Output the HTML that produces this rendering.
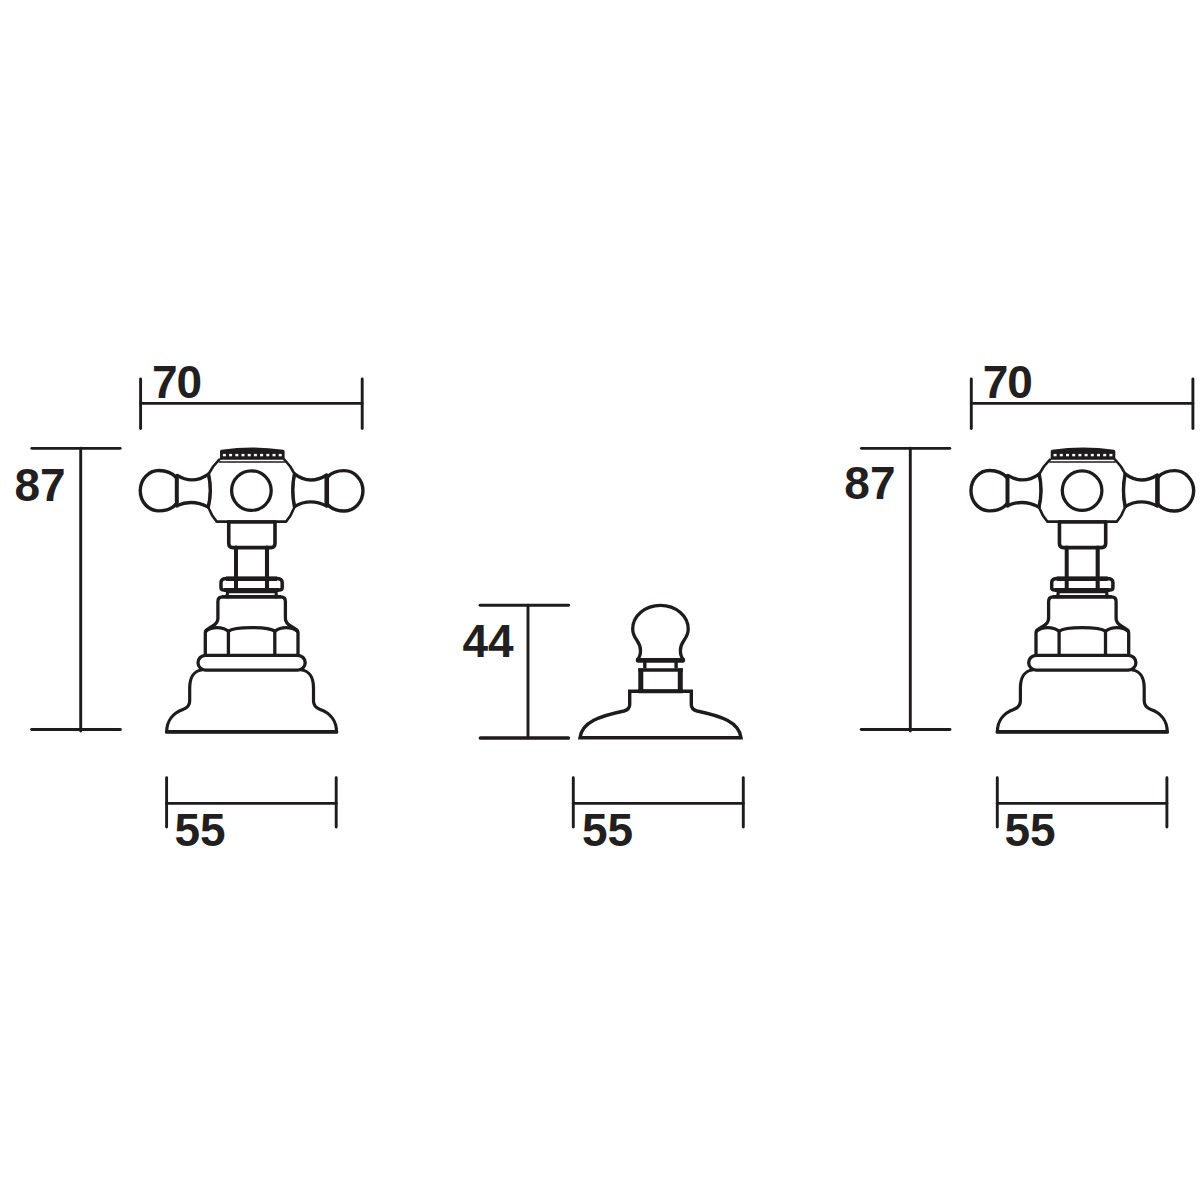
<!DOCTYPE html>
<html>
<head>
<meta charset="utf-8">
<style>
html,body{margin:0;padding:0;background:#fff;}
body{width:1200px;height:1200px;overflow:hidden;}
svg{display:block;}
text{font-family:"Liberation Sans",sans-serif;font-weight:bold;fill:#231f20;font-size:46px;}
</style>
</head>
<body>
<svg width="1200" height="1200" viewBox="0 0 1200 1200">
<defs>
<g id="tap" fill="none" stroke="#1e1b1c" stroke-width="3" stroke-linejoin="round" stroke-linecap="round">
  <!-- cap -->
  <path d="M220 459.8 L220 451.4 Q220 450 221.5 449.8 Q252.3 445 283.1 449.8 Q284.6 450 284.6 451.4 L284.6 459.8 Z" fill="#1e1b1c" stroke="none"/>
  <line x1="218.6" y1="461.95" x2="285" y2="461.95" stroke-width="1.6" stroke-linecap="butt"/>
  <g fill="#fff" stroke="none">
    <rect x="222.9" y="453.9" width="3" height="2.4"/>
    <rect x="229.1" y="453.9" width="3" height="2.4"/>
    <rect x="235.3" y="453.9" width="3" height="2.4"/>
    <rect x="241.5" y="453.9" width="3" height="2.4"/>
    <rect x="247.7" y="453.9" width="3" height="2.4"/>
    <rect x="253.9" y="453.9" width="3" height="2.4"/>
    <rect x="260.1" y="453.9" width="3" height="2.4"/>
    <rect x="266.3" y="453.9" width="3" height="2.4"/>
    <rect x="272.5" y="453.9" width="3" height="2.4"/>
    <rect x="278.7" y="453.9" width="3" height="2.4"/>
  </g>
  <!-- body -->
  <path d="M219.2 459.6 Q212.6 466 208.5 474.1 Q212.2 490.5 208.3 507.1 Q211.3 515.5 216.7 521.6 L286.1 521.6 Q291.7 515.3 294.5 506.6 Q291 490.5 294.5 473.9 Q290.7 465.8 284.4 459.6" stroke-width="2.6"/>
  <path d="M208.5 474.1 Q212.2 490.5 208.3 507.1" stroke-width="3.4"/>
  <path d="M294.5 473.9 Q291 490.5 294.5 506.6" stroke-width="3.4"/>
  <circle cx="251.4" cy="490.6" r="19.8" stroke-width="3.3"/>
  <!-- left neck -->
  <path d="M177.2 475.4 Q192.7 485.1 208.5 474.1" stroke-width="3.3"/>
  <path d="M177.2 505.4 Q192.7 498.8 208.3 507.1" stroke-width="3.3"/>
  <line x1="176.8" y1="476.1" x2="176.8" y2="505.8" stroke-width="4" stroke-linecap="round"/>
  <path d="M176.3 477.6 C172.5 473.2 165.8 470.5 158.9 470.5 A18.65 20.2 0 0 0 158.9 510.9 C165.8 510.9 172.5 508.2 176.3 503.8" stroke-width="3.4"/>
  <!-- right neck -->
  <path d="M294.5 473.9 Q309.7 485.6 326.7 475" stroke-width="3.3"/>
  <path d="M294.5 506.6 Q309.7 497.6 326.7 506" stroke-width="3.3"/>
  <line x1="326.75" y1="476" x2="326.75" y2="505.3" stroke-width="4.6" stroke-linecap="round"/>
  <path d="M327.4 477 C331.3 472.9 337.3 470.65 344 470.65 A18.95 20.2 0 0 1 344 511.05 C337.3 511.05 331.3 508.6 327.4 504.5" stroke-width="3.4"/>
  <!-- collar -->
  <path d="M228.75 522 L228.75 543.6 Q228.75 547.6 232.75 547.6 L271 547.6 Q275 547.6 275 543.6 L275 522" stroke-width="3.6"/>
  <line x1="228.75" y1="522" x2="275" y2="522" stroke-width="3.6"/>
  <!-- stem -->
  <line x1="236" y1="547.6" x2="236" y2="590" stroke-width="4"/>
  <line x1="267" y1="547.6" x2="267" y2="590" stroke-width="4.1"/>
  <!-- nut -->
  <path d="M227 578.6 L276.2 578.6 Q282.2 578.6 282.2 582.6 L282.2 587.4 Q282.2 590 279.2 590 L224 590 Q221 590 221 587.4 L221 582.6 Q221 578.6 227 578.6 Z" stroke-width="3.5"/>
  <line x1="226" y1="578.7" x2="277" y2="578.7" stroke-width="4.6" stroke-linecap="butt"/>
  <line x1="224" y1="590" x2="279" y2="590" stroke-width="3.8" stroke-linecap="butt"/>
  <line x1="227.5" y1="592.5" x2="276" y2="592.5" stroke-width="1.5" stroke-linecap="butt"/>
  <!-- legs below nut -->
  <line x1="227.6" y1="591" x2="227.1" y2="597" stroke-width="3.2"/>
  <line x1="275.9" y1="591" x2="276.4" y2="597" stroke-width="3.2"/>
  <!-- bonnet + hex outline -->
  <path d="M205.3 655.3 L205.3 633 Q205.3 630.5 208 629 L212 626.5 Q217.9 623 217.9 618.5 L217.9 601.5 Q217.9 596.9 222.5 596.9 L280.8 596.9 Q285.4 596.9 285.4 601.5 L285.4 618.5 Q285.4 623 291.3 626.5 L295.3 629 Q298 630.5 298 633 L298 655.3" stroke-width="3.3"/>
  <line x1="222" y1="596.8" x2="281" y2="596.8" stroke-width="3.4" stroke-linecap="butt"/>
  <!-- hex top arches -->
  <path d="M206 631 C209 628.5 213 627.6 217 627.6 C221.5 627.6 225.5 629 228.4 631.2 C232 628.5 240 627.6 251.6 627.6 C263.2 627.6 271.2 628.5 274.8 631.2 C277.7 629 281.7 627.6 286.2 627.6 C290.2 627.6 294.2 628.5 297.2 631" stroke-width="3.3"/>
  <line x1="228.4" y1="631" x2="228.4" y2="655.3" stroke-width="3.3"/>
  <line x1="274.8" y1="631" x2="274.8" y2="655.3" stroke-width="3.3"/>
  <!-- ring -->
  <path d="M205.4 655.3 L297.8 655.3 A7.4 7.4 0 0 1 297.8 670.1 L205.4 670.1 A7.4 7.4 0 0 1 205.4 655.3 Z" stroke-width="3.3"/>
  <!-- bell base -->
  <path d="M201.3 670 C194.5 671 189.7 677 189.7 688 L189.7 701 C189.7 706 187 708 183 709.5 C173 713 166.7 721 166.7 731.7 L336.5 731.7 C336.5 721 330.2 713 320.2 709.5 C316.2 708 313.5 706 313.5 701 L313.5 688 C313.5 677 308.7 671 301.9 670" stroke-width="3.2"/>
  <line x1="166.7" y1="731.9" x2="336.5" y2="731.9" stroke-width="3.8"/>

  <!-- dimension lines -->
  <line x1="140.6" y1="379" x2="140.6" y2="428.6" stroke-width="2.9"/>
  <line x1="362.2" y1="379" x2="362.2" y2="428.6" stroke-width="2.9"/>
  <line x1="140.6" y1="403.4" x2="362.2" y2="403.4" stroke-width="2.8"/>
  <line x1="166.6" y1="777.7" x2="166.6" y2="827" stroke-width="2.9"/>
  <line x1="336.2" y1="777.7" x2="336.2" y2="827" stroke-width="2.9"/>
  <line x1="166.6" y1="803.3" x2="336.2" y2="803.3" stroke-width="2.8"/>
</g>

<g id="d87" fill="none" stroke="#1e1b1c" stroke-linecap="round">
  <line x1="31.8" y1="448.3" x2="120.2" y2="448.3" stroke-width="2.8" stroke-linecap="round"/>
  <line x1="31.6" y1="729.5" x2="120.4" y2="729.5" stroke-width="2.8" stroke-linecap="round"/>
  <line x1="80.7" y1="448.3" x2="80.7" y2="731" stroke-width="2.9"/>
</g>
</defs>

<use href="#tap"/>
<use href="#tap" transform="translate(830.7 0)"/>
<use href="#d87"/>
<use href="#d87" transform="translate(829.6 0)"/>

<text x="152" y="398" letter-spacing="-1">70</text>
<text x="982.7" y="398" letter-spacing="-1">70</text>
<text x="14.5" y="501">87</text>
<text x="844.3" y="499">87</text>
<text x="174.5" y="846">55</text>
<text x="1004.5" y="846">55</text>
<text x="582" y="846">55</text>
<text x="462.5" y="656.7">44</text>

<!-- middle piece -->
<g fill="none" stroke="#1e1b1c" stroke-width="3" stroke-linejoin="round" stroke-linecap="round">
  <line x1="480" y1="605.3" x2="568.6" y2="605.3" stroke-width="2.9" stroke-linecap="round"/>
  <line x1="480.5" y1="738" x2="568.3" y2="738" stroke-width="3.7" stroke-linecap="round"/>
  <line x1="528" y1="605.3" x2="528" y2="737.9" stroke-width="2.9"/>
  <line x1="573.3" y1="777.7" x2="573.3" y2="827" stroke-width="2.9"/>
  <line x1="743.3" y1="777.7" x2="743.3" y2="827" stroke-width="2.9"/>
  <line x1="573.3" y1="803.3" x2="743.3" y2="803.3" stroke-width="2.8"/>

  <path d="M629.7 691.3 L629.7 704.5 C629.7 708.5 627.5 710 624 711 C600 716 582 722 580 737.7 L741 737.7 C739 722 721 716 697 711 C693.5 710 691.3 708.5 691.3 704.5 L691.3 691.3 Z" stroke-width="3.4" stroke-linejoin="miter"/>
  <line x1="640.8" y1="668.3" x2="640.8" y2="691.5" stroke-width="5" stroke-linecap="butt"/>
  <line x1="680.3" y1="668.3" x2="680.3" y2="691.5" stroke-width="5" stroke-linecap="butt"/>
  <line x1="638.3" y1="670" x2="682.8" y2="670" stroke-width="3.5" stroke-linecap="butt"/>
  <line x1="638.3" y1="691.3" x2="682.8" y2="691.3" stroke-width="4" stroke-linecap="butt"/>
  <line x1="644.8" y1="661" x2="644.8" y2="668.5" stroke-width="3.4" stroke-linecap="butt"/>
  <line x1="676.1" y1="661" x2="676.1" y2="668.5" stroke-width="3.4" stroke-linecap="butt"/>
  <rect x="635.8" y="658.1" width="49.3" height="4.7" rx="2.3" fill="#1e1b1c" stroke="none"/>
  <path d="M637.5 659.5 C639.5 657.5 640.5 654 640.5 650.5 C640.5 647 639.5 644 637 640.5 C634.5 637 632.7 633 632.7 629 A27.75 23.6 0 0 1 688.2 629 C688.2 633 686.4 637 683.9 640.5 C681.4 644 680.4 647 680.4 650.5 C680.4 654 681.4 657.5 683.4 659.5" stroke-width="3.3"/>
</g>
</svg>
</body>
</html>
